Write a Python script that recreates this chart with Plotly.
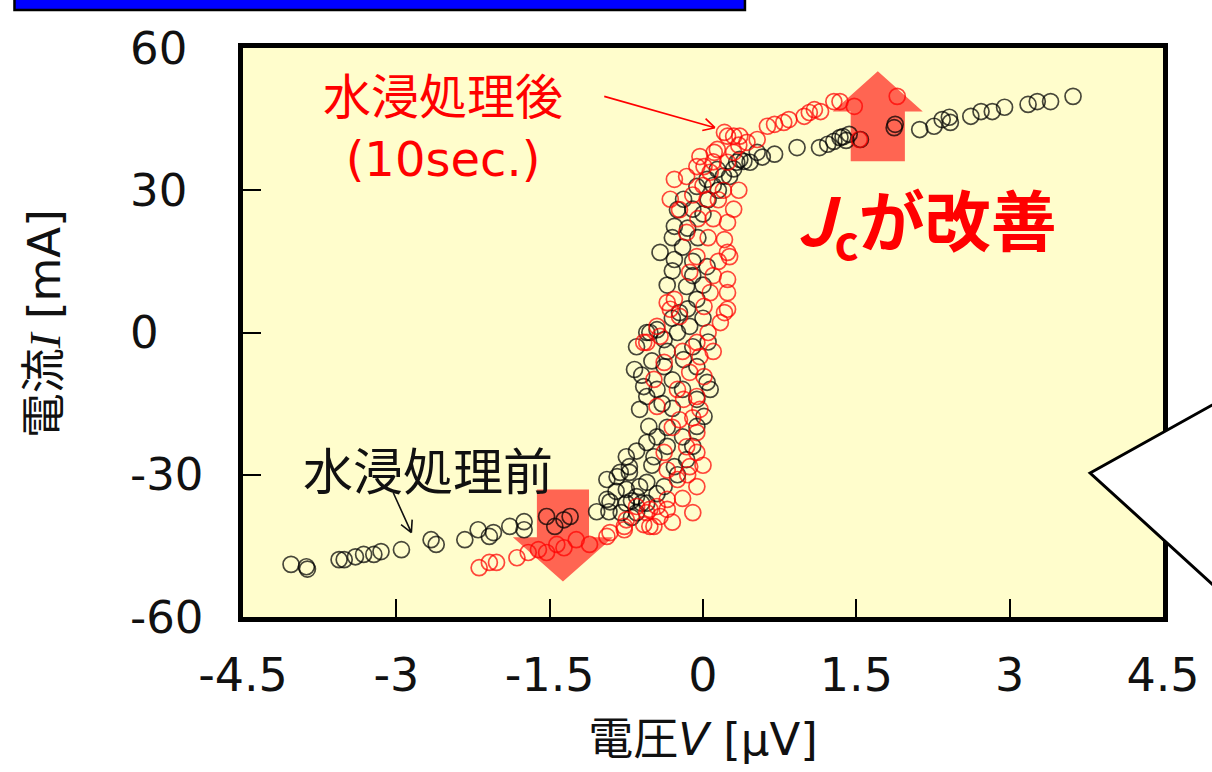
import math
import plotly.graph_objects as go

# ---------------- data ----------------
before_V = [-4.03, -3.88, -3.87, -3.56, -3.51, -3.40, -3.32, -3.22, -3.15, -2.95, -2.66, -2.61, -2.33, -2.20,
            -2.09, -2.05, -1.89, -1.75, -1.75, -1.53, -1.45, -1.36, -1.30, -1.04, -0.92, -0.91, -0.94, -0.81,
            -0.75, -0.72, -0.75, -0.65, -0.55, -0.84, -0.72, -0.94, -0.85, -0.70, -0.60, -0.62, -0.38, -0.28,
            -0.16, -0.48, -0.55, -0.53, -0.62, -0.55, -0.58, -0.67, -0.65, -0.52, -0.45, -0.38, -0.25, -0.19,
            -0.06, -0.06, 0.01, -0.06, 0.04, 0.07, -0.55, -0.38, -0.13, -0.23, -0.06, -0.16, 0.04, -0.28,
            -0.42, -0.28, -0.25, -0.19, -0.06, 0.04, 0.14, 0.26, 0.33, 0.40, 0.46,
            -0.35, -0.40, -0.30, -0.45, -0.50, -0.65, -0.35, -0.20, -0.10, -0.30, -0.20, -0.35, -0.50, -0.60,
            -0.45, -0.10, -0.30, -0.15, 0.00, -0.10, -0.20, -0.15, -0.05, -0.30, 0.00, -0.10, 0.05, 0.15,
            0.20, 0.10, -0.35, -0.30, -0.10, 0.00, 0.05, -0.25, -0.45, -0.55, -0.65, -0.75, -0.80, -0.70,
            0.36, 0.30,
            0.53, 0.58, 0.70, 0.92, 1.14, 1.22, 1.28, 1.34, 1.37, 1.40, 1.43, 1.54, 1.87, 1.88, 2.12, 2.26,
            2.34, 2.41, 2.42, 2.62, 2.72, 2.83, 2.95, 3.18, 3.27, 3.40, 3.62]
before_I = [-48.9, -49.4, -49.9, -47.9, -47.9, -47.3, -46.8, -46.8, -46.2, -45.8, -43.7, -44.7, -43.7, -41.6,
            -43.0, -42.2, -40.9, -39.9, -41.6, -38.8, -40.9, -39.5, -38.8, -37.8, -37.8, -35.7, -31.0, -29.5,
            -26.2, -28.3, -33.1, -34.6, -31.6, -30.4, -29.5, -35.2, -33.5, -35.5, -36.0, -32.5, -32.5, -28.3,
            -26.8, -26.2, -23.2, -19.8, -16.2, -13.5, -11.4, -7.8, -3.0, 0.0, 0.6, -7.2, 0.0, -5.7,
            -7.2, -14.1, -17.7, -19.8, -10.5, -12.0, 0.0, -1.5, 1.3, 4.2, 7.0, 9.7, 13.9, 15.4,
            16.9, 22.4, 25.9, 28.1, 30.8, 32.3, 34.4, 32.9, 35.9, 36.1, 35.9,
            -20.0, -15.0, -10.0, -22.0, -28.0, -25.0, -24.0, -22.0, -24.0, -16.0, -12.0, -4.0, -6.0, -9.0,
            -12.0, -3.0, 3.0, 5.0, 10.0, 15.0, 18.0, 22.0, 20.0, 20.0, 25.0, 26.0, 28.0, 30.0,
            33.0, 31.0, 10.0, 13.0, 12.0, 3.0, -2.0, -30.0, -34.0, -36.0, -38.0, -36.0, -38.0, -39.0,
            36.5, 34.5,
            38.0, 37.0, 37.6, 39.0, 39.0, 39.7, 40.3, 41.1, 41.3, 40.5, 41.8, 40.7, 43.2, 43.9, 42.8, 43.5,
            44.9, 45.4, 44.3, 45.6, 46.6, 46.6, 47.5, 48.1, 48.7, 48.7, 49.8]

after_V = [-2.19, -2.09, -2.02, -1.82, -1.71, -1.61, -1.53, -1.43, -1.36, -1.24, -1.11, -0.91, -0.77, -0.75,
           -0.58, -0.48, -0.42, -0.52, -0.35, -0.94, -0.77, -0.52, -0.65, -0.55, -0.45, -0.35, -0.06, -0.25,
           -0.13, -0.38, -0.06, -0.16, -0.06, -0.23, -0.45, -0.03, -0.06, -0.19, -0.48, 0.01, -0.13, -0.38,
           -0.03, -0.06, -0.42, -0.58, 0.17, 0.21, -0.32, -0.55, -0.45, -0.35, 0.01, -0.23, -0.28, -0.13,
           -0.16, -0.23, -0.06, 0.07, 0.24, 0.24, 0.24, 0.21, 0.26, 0.24, 0.24, 0.04, 0.24, 0.07, -0.16,
           -0.32, -0.28, -0.06, -0.03, 0.11, 0.43, 0.30, 0.21,
           -0.30, -0.25, -0.10, 0.00, -0.20, -0.10, -0.30, -0.20, 0.05, 0.10, 0.10, 0.15, 0.05, -0.05,
           0.10, 0.15, 0.20, -0.10, 0.00, 0.30, 0.35, 0.10, -0.15, -0.35, 0.35, 0.30,
           0.01, 0.14, 0.24, 0.36, 0.53, 0.63, 0.70, 0.79, 0.84, 0.99, 1.04, 1.09, 1.15, 1.28, 1.34, 1.48,
           1.53, 1.90]
after_I = [-49.6, -48.5, -48.5, -47.5, -46.4, -45.8, -46.4, -44.7, -45.4, -43.7, -44.7, -42.2, -40.9, -39.5,
           -40.5, -40.9, -38.8, -37.3, -37.3, -43.0, -41.6, -40.9, -36.7, -38.0, -36.7, -35.2, -32.5, -31.0,
           -28.3, -25.3, -25.3, -24.1, -21.1, -18.4, -15.6, -16.2, -13.5, -14.1, -9.9, -9.3, -8.4, -6.3,
           -5.1, -2.1, -0.8, -2.1, 2.1, 4.2, 4.9, -2.1, 1.3, 6.3, 5.5, 3.4, 7.0, 12.7,
           21.1, 25.9, 16.0, 8.4, 4.9, 8.4, 11.2, 19.6, 16.0, 16.9, 23.2, 28.1, 35.9, 33.8, 32.9,
           28.1, 32.3, 35.0, 37.1, 38.0, 40.1, 41.4, 42.2,
           -20.0, -12.0, -18.0, -28.0, -35.0, -38.0, -40.0, -4.0, 0.0, -4.0, 12.0, 15.0, 20.0, 24.0,
           24.0, 28.0, 30.0, 29.0, 31.0, 38.0, 39.5, 36.0, -30.0, -29.0, 30.0, 26.0,
           35.0, 38.6, 41.4, 41.4, 40.7, 43.5, 43.9, 44.3, 44.9, 45.6, 46.4, 47.0, 46.6, 48.7, 48.7, 47.7,
           40.7, 49.8]

x_ticks = [-4.5, -3, -1.5, 0, 1.5, 3, 4.5]
y_ticks = [60, 30, 0, -30, -60]

FONT = "DejaVu Sans, Noto Sans CJK JP, sans-serif"
JP = "Noto Sans CJK JP, DejaVu Sans, sans-serif"

# plot-area geometry (pixels) used for the decorative arrows
X_RANGE = (-4.5, 4.5)
Y_RANGE = (-60, 60)
PLOT_W, PLOT_H = 922, 569
SX = PLOT_W / (X_RANGE[1] - X_RANGE[0])
SY = PLOT_H / (Y_RANGE[1] - Y_RANGE[0])

fig = go.Figure()
fig.add_trace(go.Scatter(x=before_V, y=before_I, mode="markers", name="水浸処理前",
                         marker=dict(symbol="circle-open", size=16, color="rgba(0,0,0,0.72)",
                                     line=dict(width=1.7, color="rgba(0,0,0,0.72)"))))
fig.add_trace(go.Scatter(x=after_V, y=after_I, mode="markers", name="水浸処理後",
                         marker=dict(symbol="circle-open", size=16, color="rgba(255,0,0,0.72)",
                                     line=dict(width=1.7, color="rgba(255,0,0,0.72)"))))


def arrow_path(cx, half_shaft, half_head, y0, y1, ytip):
    pts = [(cx - half_shaft, y0), (cx + half_shaft, y0), (cx + half_shaft, y1), (cx + half_head, y1),
           (cx, ytip), (cx - half_head, y1), (cx - half_shaft, y1)]
    return "M " + " L ".join(f"{a},{b}" for a, b in pts) + " Z"


def pointer(tail, head, color, width=1.6, barb=13, ang=28):
    """Thin line arrow with an open V head, tail/head in data coords."""
    dxp = (head[0] - tail[0]) * SX
    dyp = (head[1] - tail[1]) * SY
    a = math.atan2(dyp, dxp)
    d = "M {},{} L {},{}".format(tail[0], tail[1], head[0], head[1])
    for s in (+1, -1):
        b = a + math.pi + s * math.radians(ang)
        bx = head[0] + barb * math.cos(b) / SX
        by = head[1] + barb * math.sin(b) / SY
        d += " M {},{} L {},{}".format(head[0], head[1], bx, by)
    return dict(type="path", xref="x", yref="y", path=d, line=dict(color=color, width=width), layer="above")


shapes = [
    # improvement arrows
    dict(type="path", xref="x", yref="y", layer="below", line=dict(width=0),
         fillcolor="rgba(255,0,0,0.6)", path=arrow_path(1.71, 0.265, 0.44, 36.1, 46.6, 55.1)),
    dict(type="path", xref="x", yref="y", layer="below", line=dict(width=0),
         fillcolor="rgba(255,0,0,0.6)", path=arrow_path(-1.37, 0.255, 0.49, -33.1, -43.2, -52.5)),
    # pointer arrows from the labels
    pointer((-3.03, -33.8), (-2.853, -42.2), "#111"),
    pointer((-0.966, 49.8), (0.117, 43.2), "#FF0000"),
    # blue title bar (cut off at the top)
    dict(type="rect", xref="paper", yref="paper", x0=-0.2484, x1=0.5456, y0=1.0668, y1=1.11,
         fillcolor="#0000FF", line=dict(color="black", width=2.5), layer="above"),
    # white callout on the right
    dict(type="path", xref="paper", yref="paper", layer="above",
         path="M 1.075,0.392 L 0.9208,0.2531 L 1.075,0.026 Z",
         fillcolor="white", line=dict(color="black", width=3)),
]

annotations = []
for v in y_ticks:
    annotations.append(dict(x=-0.1247, xref="paper", y=v, yref="y", text=str(v), showarrow=False,
                            xanchor="left", yanchor="middle", font=dict(family=FONT, size=45, color="#111")))

annotations += [
    dict(x=-0.2148, xref="paper", y=0.515, yref="paper", textangle=-90, showarrow=False,
         text='電流<span style="font-family:Liberation Serif"><i>I</i></span> [mA]',
         font=dict(family=FONT, size=45, color="#111"), xanchor="center", yanchor="middle"),
    dict(x=-2.69, y=-28.5, text="水浸処理前", showarrow=False,
         font=dict(family=JP, size=50, color="#111")),
    dict(x=-2.54, y=43.1, text="水浸処理後<br>(10sec.)", showarrow=False,
         font=dict(family=FONT, size=48, color="#FF0000")),
    dict(x=2.19, y=23.5, showarrow=False,
         text="<b><i>J</i><sub>c</sub>が改善</b>",
         font=dict(family=JP, size=66, color="#FF0000")),
]

fig.update_layout(
    width=1212, height=772,
    margin=dict(l=243, r=47, t=48, b=155),
    paper_bgcolor="white", plot_bgcolor="#FFFDCC",
    showlegend=False,
    shapes=shapes, annotations=annotations,
    xaxis=dict(range=list(X_RANGE), tickvals=x_ticks, ticktext=[f"{t:g}" for t in x_ticks],
               ticks="inside", ticklen=18, tickwidth=2, tickcolor="black",
               showline=True, linewidth=5, linecolor="black", mirror=True,
               showgrid=False, zeroline=False, ticklabelstandoff=14,
               tickfont=dict(family=FONT, size=46, color="#111"),
               title=dict(text="電圧<i>V</i> [μV]", font=dict(family=FONT, size=45, color="#111"), standoff=24)),
    yaxis=dict(range=list(Y_RANGE), tickvals=y_ticks, showticklabels=False,
               ticks="inside", ticklen=18, tickwidth=2, tickcolor="black",
               showline=True, linewidth=5, linecolor="black", mirror=True,
               showgrid=False, zeroline=False),
)

fig.write_html("out.html", config={"displayModeBar": False},
               post_script="document.body.style.margin='0';document.body.style.overflow='hidden';")
